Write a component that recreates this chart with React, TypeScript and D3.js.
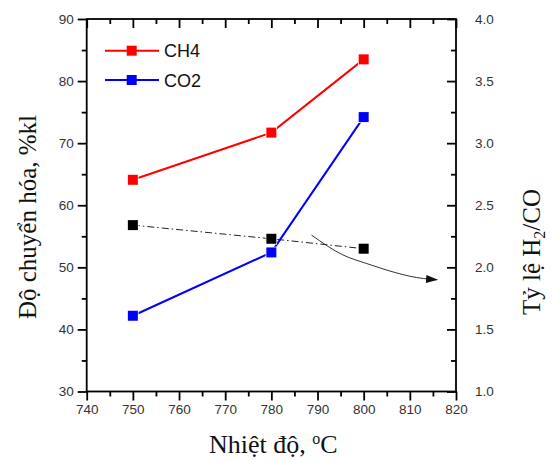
import React, { useEffect, useRef } from "react";
import * as d3 from "d3";

// data
const temps = [750, 780, 800];
const ch4 = [64.1, 71.7, 83.5];
const co2 = [42.2, 52.4, 74.2];
const ratio = [2.34, 2.23, 2.15];

// hand-drawn annotation arrow (x in °C, y on the right axis)
const arrowX = [788.7, 795.5, 800.7, 812.9, 815.9];
const arrowY = [2.26, 2.1, 2.03, 1.91, 1.9];

const xMajor = d3.range(740, 821, 10);
const xMinor = d3.range(745, 820, 10);
const yLeftMajor = d3.range(30, 91, 10);
const yLeftMinor = d3.range(35, 90, 10);
const yRightMajor = [1.0, 1.5, 2.0, 2.5, 3.0, 3.5, 4.0];
const yRightMinor = [1.25, 1.75, 2.25, 2.75, 3.25, 3.75];

const legendItems = [
    { name: "CH4", color: "#ff0000" },
    { name: "CO2", color: "#0000ff" }
];

const App = () => {
    const svgRef = useRef(null);

    useEffect(() => {
        document.body.style.margin = "0";
        const width = 552, height = 461;
        const left = 86.7, right = 456, top = 19, bottom = 391.5;
        const tickFont = "Liberation Sans, Arial, sans-serif";
        const titleFont = "Liberation Serif, Times New Roman, serif";

        const svg = d3.select(svgRef.current)
            .attr("width", width)
            .attr("height", height);
        svg.selectAll("*").remove();

        const x = d3.scaleLinear().domain([740, 820]).range([left, right]);
        const yL = d3.scaleLinear().domain([30, 90]).range([bottom, top]);
        const yR = d3.scaleLinear().domain([1, 4]).range([bottom, top]);

        const styleAxis = (g, labels = true) => {
            g.select(".domain").remove();
            g.selectAll(".tick line").attr("stroke", "#000").attr("stroke-width", 1.8);
            g.selectAll(".tick text")
                .attr("fill", "#333")
                .style("font-family", tickFont)
                .style("font-size", "13.5px");
            if (!labels) g.selectAll(".tick text").remove();
        };

        // bottom axis (outward ticks)
        svg.append("g").attr("transform", `translate(0,${bottom})`)
            .call(d3.axisBottom(x).tickValues(xMajor).tickSize(9).tickPadding(4).tickFormat(d3.format("d")))
            .call(g => styleAxis(g));
        svg.append("g").attr("transform", `translate(0,${bottom})`)
            .call(d3.axisBottom(x).tickValues(xMinor).tickSize(5))
            .call(g => styleAxis(g, false));

        // top axis (inward ticks)
        svg.append("g").attr("transform", `translate(0,${top})`)
            .call(d3.axisTop(x).tickValues(xMajor).tickSize(-9))
            .call(g => styleAxis(g, false));
        svg.append("g").attr("transform", `translate(0,${top})`)
            .call(d3.axisTop(x).tickValues(xMinor).tickSize(-5))
            .call(g => styleAxis(g, false));

        // left axis (outward ticks)
        svg.append("g").attr("transform", `translate(${left},0)`)
            .call(d3.axisLeft(yL).tickValues(yLeftMajor).tickSize(9).tickPadding(4).tickFormat(d3.format("d")))
            .call(g => styleAxis(g));
        svg.append("g").attr("transform", `translate(${left},0)`)
            .call(d3.axisLeft(yL).tickValues(yLeftMinor).tickSize(5))
            .call(g => styleAxis(g, false));

        // right axis (inward ticks, labels outside)
        svg.append("g").attr("transform", `translate(${right},0)`)
            .call(d3.axisRight(yR).tickValues(yRightMajor).tickSize(-9).tickPadding(19).tickFormat(d3.format(".1f")))
            .call(g => styleAxis(g));
        svg.append("g").attr("transform", `translate(${right},0)`)
            .call(d3.axisRight(yR).tickValues(yRightMinor).tickSize(-5))
            .call(g => styleAxis(g, false));

        // frame
        svg.append("rect")
            .attr("x", left).attr("y", top)
            .attr("width", right - left).attr("height", bottom - top)
            .attr("fill", "none").attr("stroke", "#000").attr("stroke-width", 1.8);

        // series
        const lineL = d3.line().x((d, i) => x(temps[i])).y(d => yL(d));
        const lineR = d3.line().x((d, i) => x(temps[i])).y(d => yR(d));

        svg.append("path").datum(ratio).attr("d", lineR)
            .attr("fill", "none").attr("stroke", "#222").attr("stroke-width", 1)
            .attr("stroke-dasharray", "7,3,1.5,3");
        svg.append("path").datum(ch4).attr("d", lineL)
            .attr("fill", "none").attr("stroke", legendItems[0].color).attr("stroke-width", 2);
        svg.append("path").datum(co2).attr("d", lineL)
            .attr("fill", "none").attr("stroke", legendItems[1].color).attr("stroke-width", 2);

        const ms = 10;
        const drawMarkers = (vals, scale, color) => {
            svg.append("g").selectAll("rect")
                .data(vals)
                .enter()
                .append("rect")
                .attr("x", (d, i) => x(temps[i]) - ms / 2)
                .attr("y", d => scale(d) - ms / 2)
                .attr("width", ms).attr("height", ms)
                .attr("fill", color)
                .attr("stroke", "#fff").attr("stroke-width", 1.5)
                .attr("paint-order", "stroke");
        };
        drawMarkers(ch4, yL, legendItems[0].color);
        drawMarkers(co2, yL, legendItems[1].color);
        drawMarkers(ratio, yR, "#000");

        // annotation arrow
        const defs = svg.append("defs");
        defs.append("marker")
            .attr("id", "arrowhead")
            .attr("markerUnits", "userSpaceOnUse")
            .attr("markerWidth", 12).attr("markerHeight", 8)
            .attr("refX", 11).attr("refY", 4)
            .attr("orient", "auto")
            .append("path").attr("d", "M0,0 L12,4 L0,8 Z").attr("fill", "#111");
        const arrowLine = d3.line().curve(d3.curveMonotoneX)
            .x((d, i) => x(arrowX[i])).y(d => yR(d));
        svg.append("path").datum(arrowY).attr("d", arrowLine)
            .attr("fill", "none").attr("stroke", "#333").attr("stroke-width", 1)
            .attr("marker-end", "url(#arrowhead)");

        // legend
        const lg = svg.append("g");
        legendItems.forEach((it, i) => {
            const ly = 50.7 + i * 29.3;
            lg.append("line").attr("x1", 105).attr("x2", 159).attr("y1", ly).attr("y2", ly)
                .attr("stroke", it.color).attr("stroke-width", 2);
            lg.append("rect").attr("x", 131.7 - ms / 2).attr("y", ly - ms / 2)
                .attr("width", ms).attr("height", ms).attr("fill", it.color);
            lg.append("text").attr("x", 164).attr("y", ly + 6.5)
                .attr("fill", "#111")
                .style("font-family", tickFont).style("font-size", "18px")
                .text(it.name);
        });

        // axis titles
        svg.append("text")
            .attr("transform", `translate(36,217) rotate(-90)`)
            .attr("text-anchor", "middle")
            .style("font-family", titleFont).style("font-size", "25px")
            .attr("fill", "#111")
            .text("Độ chuyển hóa, %kl");

        const xt = svg.append("text")
            .attr("x", (left + right) / 2 + 2).attr("y", 453)
            .attr("text-anchor", "middle")
            .style("font-family", titleFont).style("font-size", "26px")
            .attr("fill", "#111");
        xt.append("tspan").text("Nhiệt độ, ");
        xt.append("tspan").attr("dy", -9).style("font-size", "16px").text("o");
        xt.append("tspan").attr("dy", 9).text("C");

        const rt = svg.append("text")
            .attr("transform", `translate(540,252) rotate(-90)`)
            .attr("text-anchor", "middle")
            .style("font-family", titleFont).style("font-size", "25px")
            .attr("fill", "#111");
        rt.append("tspan").text("Tỷ lệ H");
        rt.append("tspan").attr("dy", 5).style("font-size", "16px").text("2");
        rt.append("tspan").attr("dy", -5).text("/CO");
    }, []);

    return <svg ref={svgRef} style={{ display: "block" }}></svg>;
};

export default App;
